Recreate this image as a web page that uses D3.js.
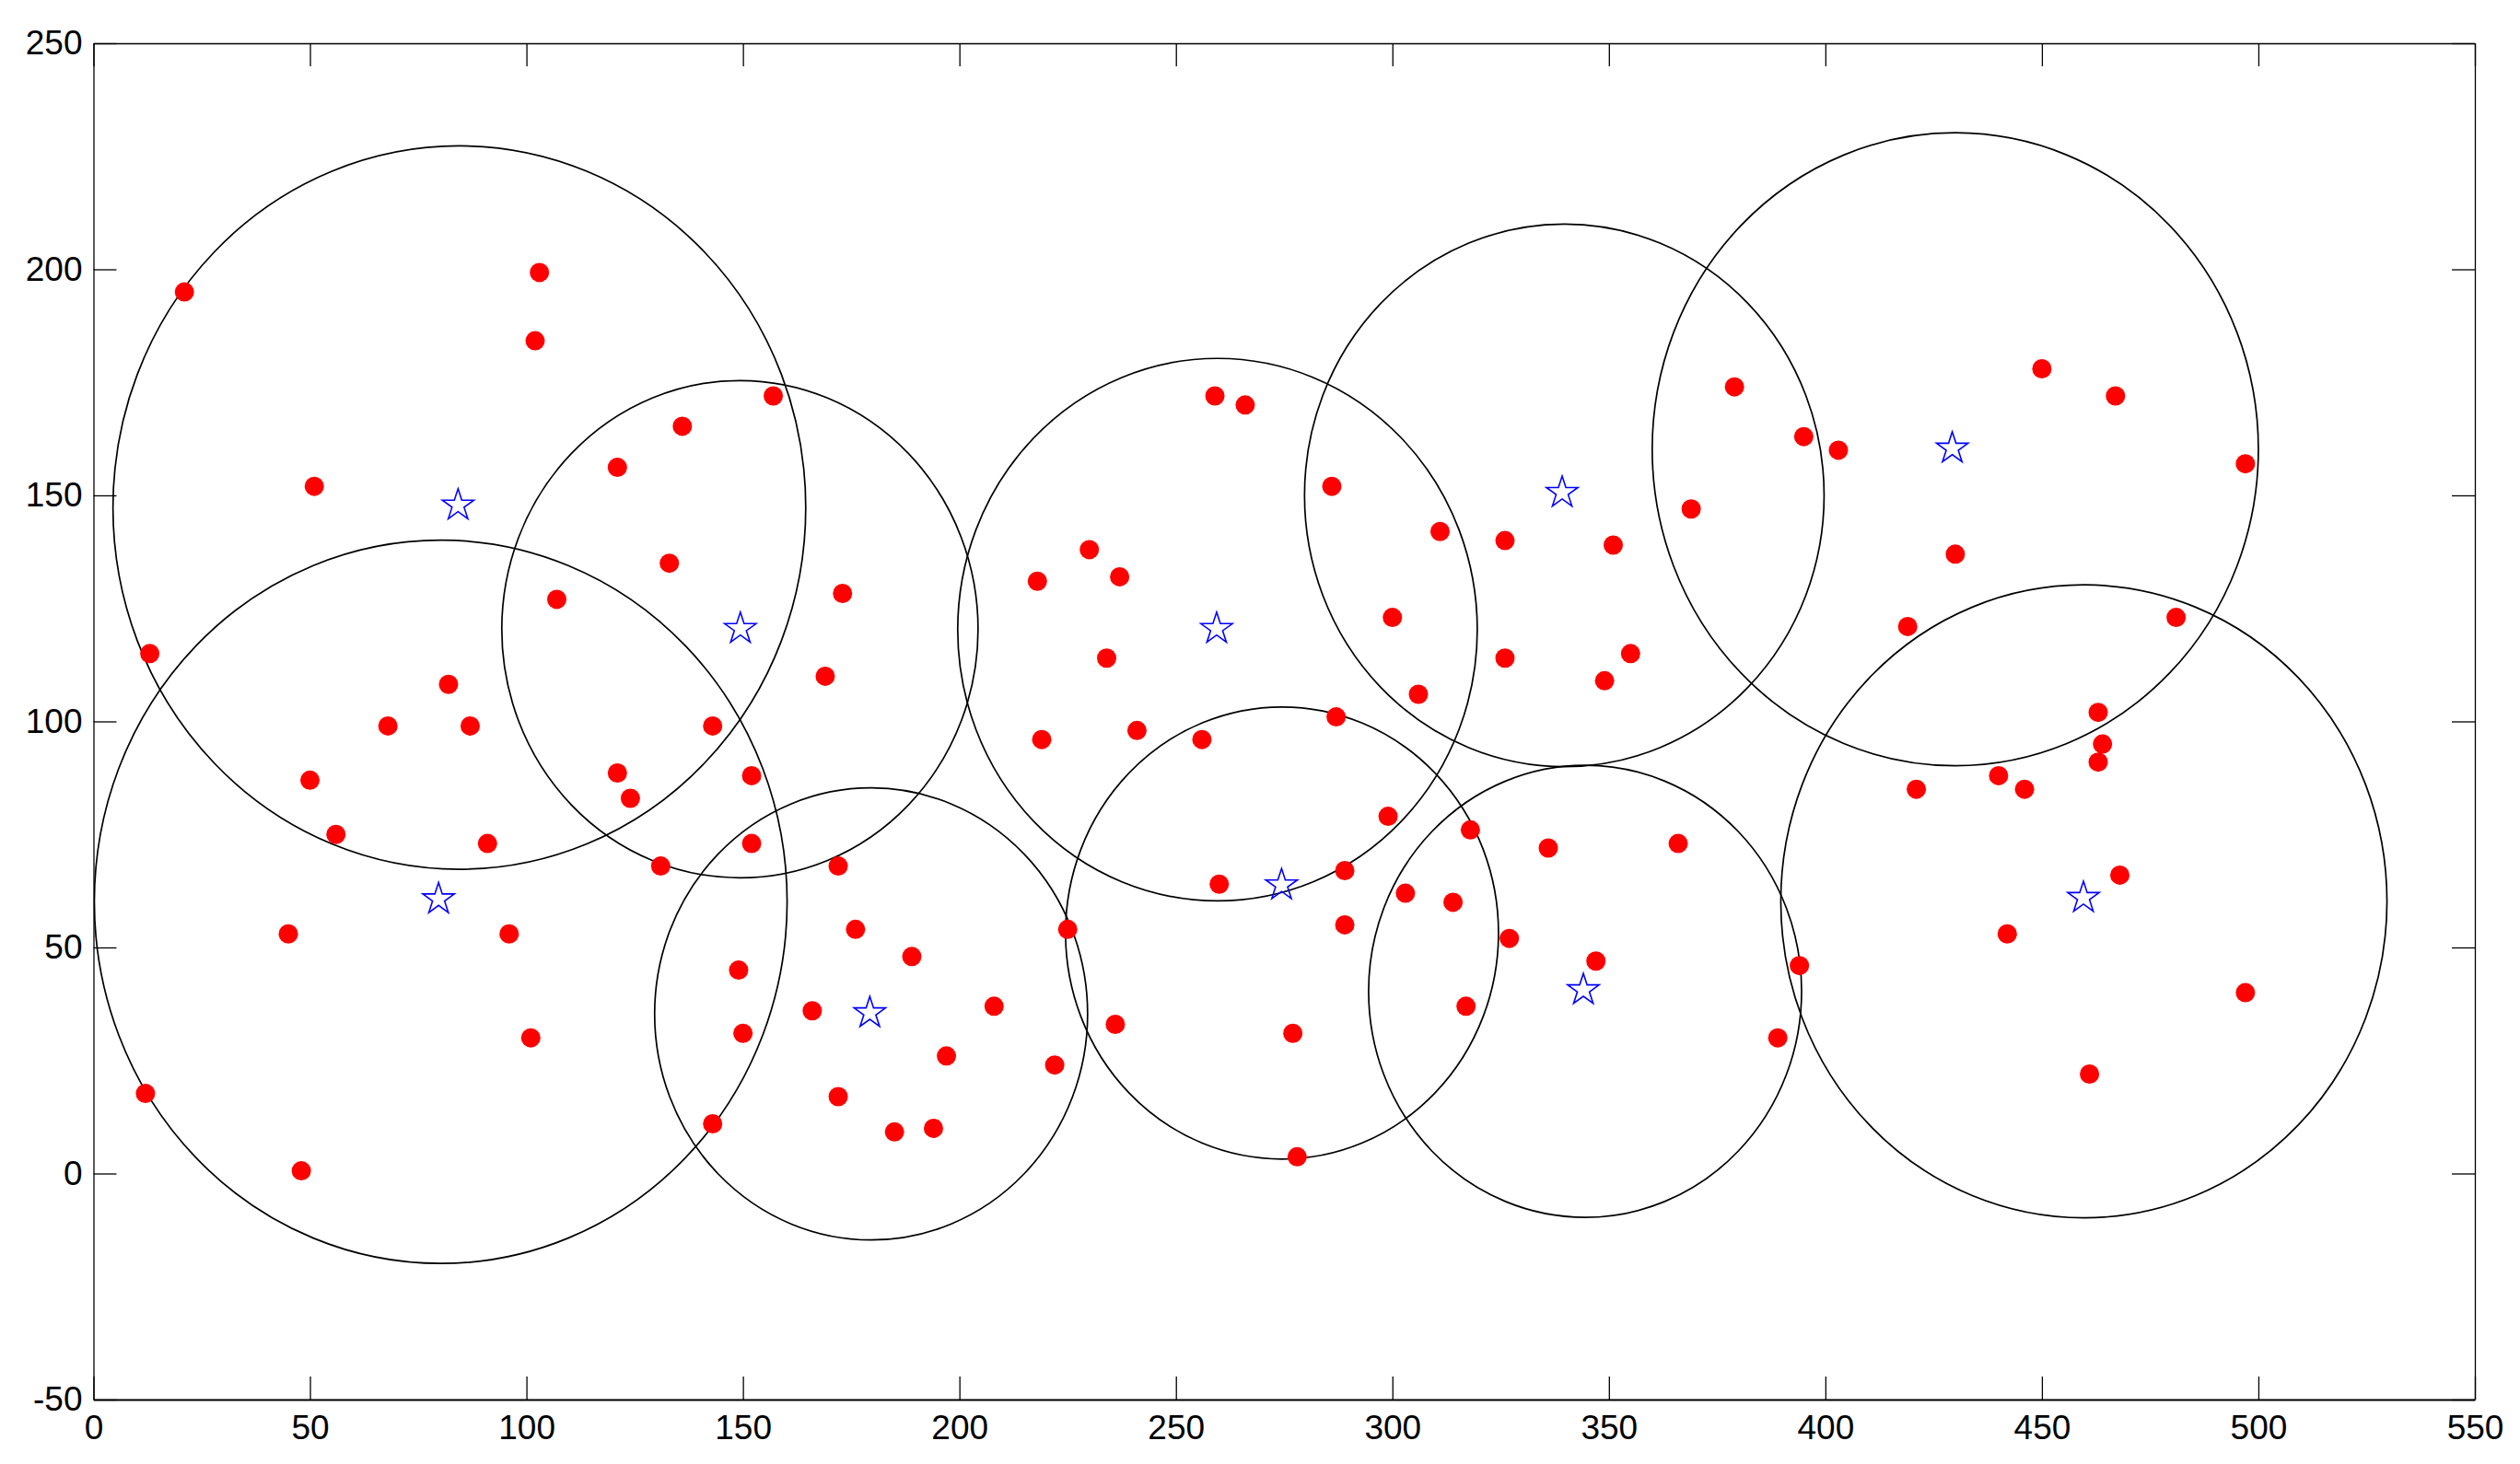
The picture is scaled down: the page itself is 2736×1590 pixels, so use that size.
<!DOCTYPE html>
<html>
<head>
<meta charset="utf-8">
<script src="https://cdn.jsdelivr.net/npm/d3@7"></script>
<style>
    html, body { margin: 0; padding: 0; background: #fff; }
    svg { display: block; }
</style>
</head>
<body>
<svg id="drawing_region"></svg>
<script>
// tick values
const xticks = [0, 50, 100, 150, 200, 250, 300, 350, 400, 450, 500, 550];
const yticks = [-50, 0, 50, 100, 150, 200, 250];

// red data points
const pointX = [21, 103, 102, 157, 136, 121, 51, 133, 173, 107, 13, 169, 82, 68, 87, 143, 50, 121, 124, 152,
    56, 91, 152, 131, 172, 45, 96, 176, 149, 166, 150, 101, 12, 172, 143, 185, 48,
    259, 266, 286, 311, 326, 351, 230, 369, 237, 218, 300, 234, 326, 355, 349, 306, 287, 219, 241, 256,
    299, 318, 336, 366, 289, 260, 303, 314, 289, 327, 347, 225, 189, 317, 208, 236, 277, 197, 222, 194, 278,
    379, 395, 403, 450, 467, 497, 430, 419, 481, 463, 464, 463, 440, 421, 446, 468, 442, 394, 497, 389, 461];
const pointY = [195, 199.3, 184.2, 172, 165.3, 156.2, 152, 135, 128.3, 127, 115, 110, 108.2, 99, 99, 99, 87, 88.6, 83, 88,
    75, 73, 73, 68, 68, 53, 53, 54, 45, 36, 31, 30, 17.7, 17, 11, 9.2, 0.6,
    172, 170, 152, 142, 140, 139, 138, 147, 132, 131, 123, 114, 114, 115, 109, 106, 101, 96, 98, 96,
    79, 76, 72, 73, 67, 64, 62, 60, 55, 52, 47, 54, 48, 37, 37, 33, 31, 26, 24, 10, 3.7,
    174, 163, 160, 178, 172, 157, 137, 121, 123, 102, 95, 91, 88, 85, 85, 66, 53, 46, 40, 30, 22];

// blue stars (centres)
const starX = [84.2, 149.4, 79.7, 179.3, 259.4, 274.4, 339.2, 344.1, 429.3, 459.6];
const starY = [147.8, 120.5, 60.7, 35.5, 120.5, 63.8, 150.6, 40.6, 160.4, 61];

// black circles
const circleX = [84.5, 149.3, 80.2, 179.6, 259.6, 274.5, 339.7, 344.5, 430, 459.7];
const circleY = [147.3, 120.4, 60.1, 35.3, 120.3, 53.2, 150, 40.3, 160.2, 60.2];
const circleR = [80, 55, 80, 50, 60, 50, 60, 50, 70, 70];

class ClusterPlot {
    constructor (config) {
        this.config = {
            parent: config.parent,
            width: config.width || 2736,
            height: config.height || 1590,
            margin: config.margin || {top:47, right:49, bottom:70, left:101.5},
        };
        this.init();
    }

    init() {
        let self = this;

        self.svg = d3.select(self.config.parent)
            .attr('width', self.config.width)
            .attr('height', self.config.height);

        self.inner_width = self.config.width - self.config.margin.left - self.config.margin.right;
        self.inner_height = self.config.height - self.config.margin.top - self.config.margin.bottom;

        self.chart = self.svg.append('g')
            .attr('transform', `translate(${self.config.margin.left}, ${self.config.margin.top})`);

        self.xscale = d3.scaleLinear()
            .domain([0, 550])
            .range([0, self.inner_width]);

        self.yscale = d3.scaleLinear()
            .domain([-50, 250])
            .range([self.inner_height, 0]);

        self.svg.append('defs').append('clipPath')
            .attr('id', 'plot_clip')
            .append('rect')
            .attr('width', self.inner_width)
            .attr('height', self.inner_height);

        self.plot = self.chart.append('g')
            .attr('clip-path', 'url(#plot_clip)');
    }

    render() {
        let self = this;
        const font = '"Liberation Sans", Arial, sans-serif';
        const plain = d => String(d);   // matlab style labels, plain hyphen minus

        // circles
        self.plot.selectAll('ellipse')
            .data(d3.range(circleX.length))
            .join('ellipse')
            .attr('cx', i => self.xscale(circleX[i]))
            .attr('cy', i => self.yscale(circleY[i]))
            .attr('rx', i => self.xscale(circleX[i] + circleR[i]) - self.xscale(circleX[i]))
            .attr('ry', i => self.yscale(circleY[i] - circleR[i]) - self.yscale(circleY[i]))
            .attr('fill', 'none')
            .attr('stroke', '#000')
            .attr('stroke-width', 1.7);

        // red points
        self.plot.selectAll('circle.pt')
            .data(d3.range(pointX.length))
            .join('circle')
            .attr('class', 'pt')
            .attr('cx', i => self.xscale(pointX[i]))
            .attr('cy', i => self.yscale(pointY[i]))
            .attr('r', 10.5)
            .attr('fill', '#ff0000');

        // blue stars
        const star = d3.symbol().type(d3.symbolStar).size(364);
        self.plot.selectAll('path.star')
            .data(d3.range(starX.length))
            .join('path')
            .attr('class', 'star')
            .attr('transform', i => `translate(${self.xscale(starX[i])}, ${self.yscale(starY[i])})`)
            .attr('d', star)
            .attr('fill', 'none')
            .attr('stroke', '#0000ff')
            .attr('stroke-width', 1.6);

        // box axes with inward ticks
        const tick = -25;
        const bottom = self.chart.append('g')
            .attr('transform', `translate(0, ${self.inner_height})`)
            .call(d3.axisBottom(self.xscale).tickValues(xticks).tickFormat(plain)
                .tickSize(tick).tickSizeOuter(0).tickPadding(17));
        const left = self.chart.append('g')
            .call(d3.axisLeft(self.yscale).tickValues(yticks).tickFormat(plain)
                .tickSize(tick).tickSizeOuter(0).tickPadding(12));
        const top = self.chart.append('g')
            .call(d3.axisTop(self.xscale).tickValues(xticks).tickSize(tick).tickSizeOuter(0).tickFormat(''));
        const right = self.chart.append('g')
            .attr('transform', `translate(${self.inner_width}, 0)`)
            .call(d3.axisRight(self.yscale).tickValues(yticks).tickSize(tick).tickSizeOuter(0).tickFormat(''));

        [bottom, left, top, right].forEach(g => {
            g.selectAll('path.domain').attr('stroke', '#000').attr('stroke-width', 1.3);
            g.selectAll('line').attr('stroke', '#000').attr('stroke-width', 1.3);
            g.selectAll('text')
                .attr('fill', '#000')
                .style('font-family', font)
                .style('font-size', '37px');
        });
        bottom.select('path.domain').attr('stroke-width', 2);
    }
}

let plot = new ClusterPlot({ parent: '#drawing_region' });
plot.render();
</script>
</body>
</html>
